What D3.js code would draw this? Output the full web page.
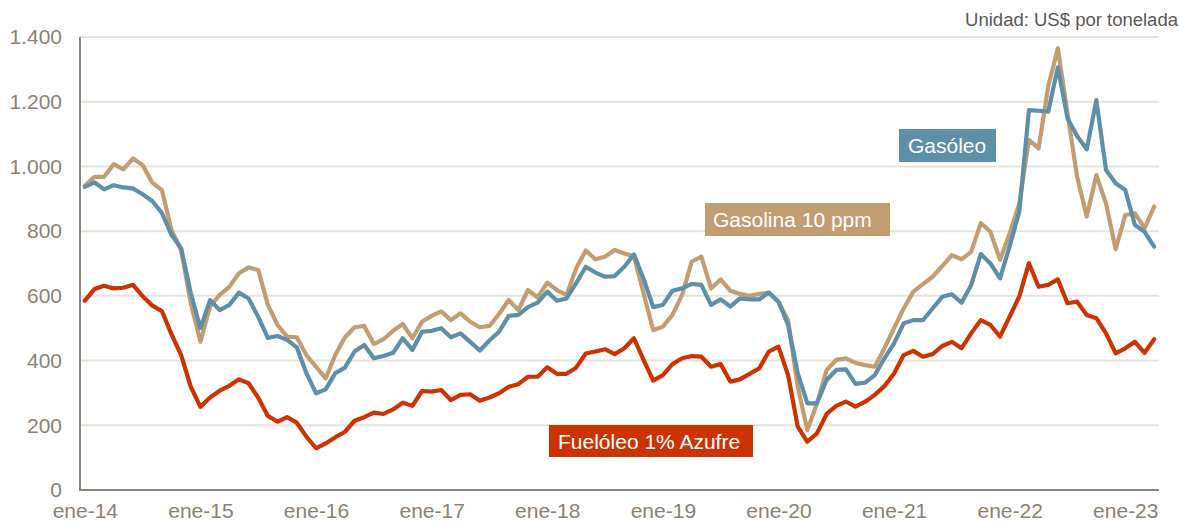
<!DOCTYPE html>
<html lang="es">
<head>
<meta charset="utf-8">
<script src="https://cdn.jsdelivr.net/npm/d3@7"></script>
<style>
  html, body { margin: 0; padding: 0; background: #ffffff; }
  svg { display: block; font-family: "Liberation Sans", Arial, Helvetica, sans-serif; }
</style>
</head>
<body>
<svg id="chart" width="1179" height="524"></svg>
<script>
// Monthly categories, January 2014 to April 2023
const monthNames = ["ene","feb","mar","abr","may","jun","jul","ago","sep","oct","nov","dic"];
const startYear = 2014;
const monthCount = 112;
const months = d3.range(monthCount).map(i =>
  monthNames[i % 12] + "-" + String((startYear + Math.floor(i / 12)) % 100).padStart(2, "0"));

// Price series, US$ per tonne
const gasoleo = [
  937, 951, 929, 942, 935, 932, 914, 893, 856, 788, 747, 608,
  500, 587, 556, 572, 610, 592, 535, 470, 476, 464, 441, 361,
  299, 311, 361, 378, 428, 448, 407, 414, 424, 469, 433, 489,
  492, 500, 472, 484, 458, 431, 462, 489, 538, 541, 565, 579,
  613, 585, 592, 639, 690, 672, 659, 661, 690, 728, 653, 565,
  572, 616, 623, 637, 634, 572, 589, 567, 592, 589, 589, 610,
  582, 510, 361, 268, 268, 340, 371, 373, 328, 332, 355, 407,
  453, 515, 525, 525, 561, 597, 605, 579, 633, 729, 700, 654,
  754, 860, 1174, 1172, 1169, 1306, 1149, 1094, 1053, 1205, 989, 948,
  927, 819, 798, 752
];

const gasolina = [
  940, 968, 968, 1007, 991, 1025, 1004, 950, 927, 803, 741, 577,
  458, 567, 603, 628, 670, 688, 680, 572, 510, 474, 472, 417,
  381, 345, 417, 472, 503, 507, 451, 466, 492, 513, 469, 520,
  538, 552, 525, 546, 520, 503, 507, 544, 587, 556, 618, 595,
  641, 618, 603, 685, 740, 713, 721, 742, 731, 722, 608, 494,
  505, 541, 603, 706, 721, 623, 651, 616, 606, 600, 606, 610,
  582, 525, 319, 185, 268, 371, 402, 407, 393, 386, 381, 438,
  500, 561, 613, 636, 659, 692, 726, 713, 736, 825, 798, 711,
  793, 886, 1082, 1056, 1247, 1365, 1164, 968, 845, 973, 886, 744,
  850, 855, 809, 876
];

const fueloleo = [
  585, 621, 631, 623, 625, 634, 599, 570, 553, 481, 417, 319,
  257, 286, 307, 322, 342, 330, 285, 229, 211, 225, 208, 165,
  129, 144, 163, 180, 214, 225, 239, 235, 249, 270, 260, 306,
  304, 309, 278, 294, 296, 276, 286, 299, 319, 327, 350, 350,
  379, 359, 359, 378, 422, 428, 435, 420, 438, 469, 402, 338,
  355, 389, 407, 414, 412, 381, 389, 335, 342, 359, 376, 428,
  443, 355, 196, 149, 175, 235, 260, 273, 258, 273, 294, 321,
  360, 417, 430, 412, 420, 445, 458, 438, 484, 525, 510, 474,
  536, 598, 701, 628, 634, 651, 577, 582, 541, 531, 484, 422,
  438, 458, 424, 466
];

// Axis ticks
const yTickValues = [0, 200, 400, 600, 800, 1000, 1200, 1400];
const yTickLabels = ["0", "200", "400", "600", "800", "1.000", "1.200", "1.400"];
const xTickLabels = ["ene-14","ene-15","ene-16","ene-17","ene-18","ene-19","ene-20","ene-21","ene-22","ene-23"];

const unitText = "Unidad: US$ por tonelada";

const series = [
  { name: "Gasolina 10 ppm",    values: gasolina, color: "#c29d72" },
  { name: "Gasóleo",            values: gasoleo,  color: "#5e8fa9" },
  { name: "Fuelóleo 1% Azufre", values: fueloleo, color: "#cc3300" }
];

// Layout
const plot = { left: 80, right: 1159, top: 37, bottom: 490 };
const axisColor = "#8e867a";
const tickTextColor = "#8b8271";
const gridColor = "#e6e3dd";
const fontSize = 21;

const svg = d3.select("#chart");

const x = d3.scalePoint()
  .domain(months)
  .range([plot.left, plot.right])
  .padding(0.5);

const y = d3.scaleLinear()
  .domain([0, 1400])
  .range([plot.bottom, plot.top]);

// Horizontal gridlines
svg.append("g")
  .selectAll("line")
  .data(yTickValues.filter(v => v > 0))
  .join("line")
  .attr("x1", plot.left)
  .attr("x2", plot.right)
  .attr("y1", d => y(d))
  .attr("y2", d => y(d))
  .attr("stroke", gridColor)
  .attr("stroke-width", 2);

// Y axis labels
const yAxis = d3.axisLeft(y)
  .tickValues(yTickValues)
  .tickFormat((d, i) => yTickLabels[i])
  .tickSize(0)
  .tickPadding(18);

const gy = svg.append("g")
  .attr("transform", `translate(${plot.left},0)`)
  .call(yAxis);
gy.select(".domain").remove();
gy.selectAll("text")
  .attr("fill", tickTextColor)
  .style("font-size", fontSize + "px")
  .style("font-family", "Liberation Sans, Arial, sans-serif");

// X axis labels, one per January
const januaries = months.filter((m, i) => i % 12 === 0);
const xAxis = d3.axisBottom(x)
  .tickValues(januaries)
  .tickFormat((d, i) => xTickLabels[i])
  .tickSize(0)
  .tickPadding(13);

const gx = svg.append("g")
  .attr("transform", `translate(0,${plot.bottom})`)
  .call(xAxis);
gx.select(".domain").remove();
gx.selectAll("text")
  .attr("fill", tickTextColor)
  .style("font-size", fontSize + "px")
  .style("font-family", "Liberation Sans, Arial, sans-serif");

// Axis lines
svg.append("line")
  .attr("x1", plot.left).attr("x2", plot.left)
  .attr("y1", plot.top).attr("y2", plot.bottom + 1)
  .attr("stroke", axisColor).attr("stroke-width", 2);
svg.append("line")
  .attr("x1", plot.left - 1).attr("x2", plot.right)
  .attr("y1", plot.bottom).attr("y2", plot.bottom)
  .attr("stroke", axisColor).attr("stroke-width", 2);

// Series lines
const line = d3.line()
  .x((d, i) => x(months[i]))
  .y(d => y(d));

svg.append("g")
  .selectAll("path")
  .data(series)
  .join("path")
  .attr("d", d => line(d.values))
  .attr("fill", "none")
  .attr("stroke", d => d.color)
  .attr("stroke-width", 4.2)
  .attr("stroke-linejoin", "round")
  .attr("stroke-linecap", "round");

// Series name boxes
const labelBoxes = [
  { name: "Gasóleo",            color: "#5e8fa9", x0: 899, x1: 996, y0: 129, y1: 162, tx: 908 },
  { name: "Gasolina 10 ppm",    color: "#c29d72", x0: 705, x1: 890, y0: 203, y1: 236, tx: 713 },
  { name: "Fuelóleo 1% Azufre", color: "#cc3300", x0: 549, x1: 753, y0: 425, y1: 457, tx: 558 }
];

const lb = svg.append("g")
  .selectAll("g")
  .data(labelBoxes)
  .join("g");
lb.append("rect")
  .attr("x", d => d.x0)
  .attr("y", d => d.y0)
  .attr("width", d => d.x1 - d.x0)
  .attr("height", d => d.y1 - d.y0)
  .attr("fill", d => d.color);
lb.append("text")
  .attr("x", d => d.tx)
  .attr("y", d => (d.y0 + d.y1) / 2)
  .attr("dy", "0.36em")
  .attr("fill", "#ffffff")
  .style("font-size", fontSize + "px")
  .text(d => d.name);

// Unit note
svg.append("text")
  .attr("x", 1178)
  .attr("y", 26)
  .attr("text-anchor", "end")
  .attr("fill", "#595959")
  .style("font-size", "18.5px")
  .text(unitText);
</script>
</body>
</html>
